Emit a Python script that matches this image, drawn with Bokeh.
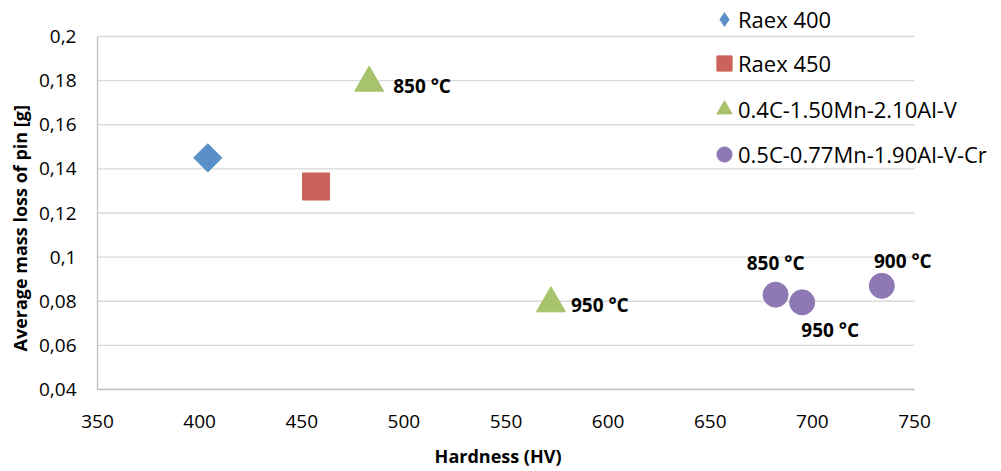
from bokeh.plotting import figure
from bokeh.models import (Range1d, FixedTicker, Legend, LegendItem, ColumnDataSource, Title)
from bokeh.core.properties import value
from bokeh.embed import file_html
from bokeh.resources import INLINE
import math

# ---- data ----
raex400_x = [404]
raex400_y = [0.145]
raex450_x = [457]
raex450_y = [0.132]
alloy1_x = [483, 572]
alloy1_y = [0.179, 0.079]
alloy1_labels = ["850 °C", "950 °C"]
alloy2_x = [682, 695, 734]
alloy2_y = [0.083, 0.0795, 0.087]
alloy2_labels = ["850 °C", "950 °C", "900 °C"]

series_names = ["Raex 400", "Raex 450", "0.4C-1.50Mn-2.10Al-V", "0.5C-0.77Mn-1.90Al-V-Cr"]

x_ticks = [350, 400, 450, 500, 550, 600, 650, 700, 750]
y_ticks = [0.04, 0.06, 0.08, 0.1, 0.12, 0.14, 0.16, 0.18, 0.2]
y_tick_labels = ["0,04", "0,06", "0,08", "0,1", "0,12", "0,14", "0,16", "0,18", "0,2"]
x_title = "Hardness (HV)"
y_title = "Average mass loss of pin [g]"

# ---- layout / style ----
FONT = "Open Sans"
C_BLUE = "#5B8FC8"
C_RED = "#CB635A"
C_GREEN = "#A7C36B"
C_PURPLE = "#8E79B4"
W, H_FIG = 1001, 471
PLOT_L, PLOT_R, PLOT_T, PLOT_B = 97, 914, 36, 389   # plot-area pixels

x0, x1 = x_ticks[0], x_ticks[-1]
y0, y1 = y_ticks[0], y_ticks[-1]
px_x = (PLOT_R - PLOT_L) / (x1 - x0)
px_y = (PLOT_B - PLOT_T) / (y1 - y0)
# frame extends to the canvas edge (top/right) so the legend is not clipped
x_end = x1 + (W - PLOT_R) / px_x
y_end = y1 + PLOT_T / px_y

p = figure(width=W, height=H_FIG, output_backend="svg", toolbar_location=None,
           x_range=Range1d(x0, x_end), y_range=Range1d(y0, y_end),
           min_border_left=PLOT_L, min_border_right=0, min_border_top=0,
           min_border_bottom=H_FIG - PLOT_B)
p.outline_line_color = None
p.background_fill_color = "white"
p.border_fill_color = "white"
p.xgrid.grid_line_color = None
p.ygrid.grid_line_color = None

# horizontal gridlines limited to the plot area
p.segment(x0=[x0] * len(y_ticks), x1=[x1] * len(y_ticks), y0=y_ticks, y1=y_ticks,
          line_color="#D9D9D9", line_width=1.3)

p.xaxis.ticker = FixedTicker(ticks=x_ticks)
p.yaxis.ticker = FixedTicker(ticks=y_ticks)
p.yaxis.major_label_overrides = {t: s for t, s in zip(y_ticks, y_tick_labels)}
p.xaxis.bounds = (x0, x1)
p.yaxis.bounds = (y0, y1)

for ax in (p.xaxis[0], p.yaxis[0]):
    ax.axis_line_color = "#BFBFBF"
    ax.axis_line_width = 1.3
    ax.major_tick_out = 0
    ax.major_tick_in = 0
    ax.minor_tick_out = 0
    ax.minor_tick_in = 0
    ax.major_label_text_font = FONT
    ax.major_label_text_font_size = "19px"
    ax.major_label_text_color = "#000000"
    ax.axis_label_text_font = FONT
    ax.axis_label_text_font_size = "18px"
    ax.axis_label_text_font_style = "bold"
    ax.axis_label_text_color = "#000000"

# x title: the axis label is centred on the (wide) frame; trailing no-break
# spaces move the visible text back over the centre of the plot area
p.xaxis.axis_label = x_title + "\u00a0" * 22
p.xaxis.major_label_standoff = 25
p.xaxis.axis_label_standoff = 13
p.yaxis.major_label_standoff = 21

YT_W = 250   # approx rendered length of the y title
p.add_layout(Title(text=y_title, align="left",
                   offset=PLOT_B - (226 + YT_W / 2), standoff=8, text_font=FONT,
                   text_font_size="18px", text_font_style="bold",
                   text_color="#000000"), "left")

r1 = p.scatter(raex400_x, raex400_y, marker="square", size=20, angle=math.pi / 4,
               fill_color=C_BLUE, line_color=C_BLUE)
# legend-only twin of r1 (legend glyphs ignore angle, so use the diamond marker)
r1_leg = p.scatter(raex400_x, raex400_y, marker="diamond", size=0,
                   fill_color=C_BLUE, line_color=None)
r2 = p.scatter(raex450_x, raex450_y, marker="square", size=27,
               fill_color=C_RED, line_color=C_RED)
r3 = p.scatter(alloy1_x, alloy1_y, marker="triangle", size=29,
               fill_color=C_GREEN, line_color=C_GREEN)
r4 = p.scatter(alloy2_x, alloy2_y, marker="circle", size=25,
               fill_color=C_PURPLE, line_color=C_PURPLE)

# data labels
src1 = ColumnDataSource(dict(x=alloy1_x, y=alloy1_y, t=alloy1_labels,
                             dx=[24, 20], dy=[3, 2]))
p.text(x="x", y="y", text="t", x_offset="dx", y_offset="dy", source=src1,
       text_font=value(FONT), text_font_style="bold", text_font_size="19px",
       text_align="left", text_baseline="middle", text_color="#000000")
src2 = ColumnDataSource(dict(x=alloy2_x, y=alloy2_y, t=alloy2_labels,
                             dx=[0, 28, 21], dy=[-32, 28, -25]))
p.text(x="x", y="y", text="t", x_offset="dx", y_offset="dy", source=src2,
       text_font=value(FONT), text_font_style="bold", text_font_size="19px",
       text_align="center", text_baseline="middle", text_color="#000000")

# legend: markers and texts as separate one-entry legends for exact placement
marker_cx = 724
text_x = 738
item_cy = [19, 63, 109, 154]
IH = 38
GW = 38
common = dict(padding=0, margin=0, spacing=0, border_line_color=None,
              background_fill_alpha=0, label_text_font=FONT,
              label_text_font_size="22px", label_text_color="#000000",
              label_height=IH, glyph_height=IH)
for name, rend, cy in zip(series_names, [r1_leg, r2, r3, r4], item_cy):
    left = marker_cx - GW / 2
    mk = Legend(items=[LegendItem(label=" ", renderers=[rend])],
                location=(left - PLOT_L, PLOT_B - (cy + IH / 2)),
                glyph_width=GW, label_standoff=0, **common)
    p.add_layout(mk, "center")
    tx = Legend(items=[LegendItem(label=name, renderers=[rend])],
                location=(text_x - PLOT_L, PLOT_B - (cy + IH / 2)),
                glyph_width=0, label_standoff=0, **common)
    p.add_layout(tx, "center")

open("out.html", "w").write(file_html(p, INLINE))
